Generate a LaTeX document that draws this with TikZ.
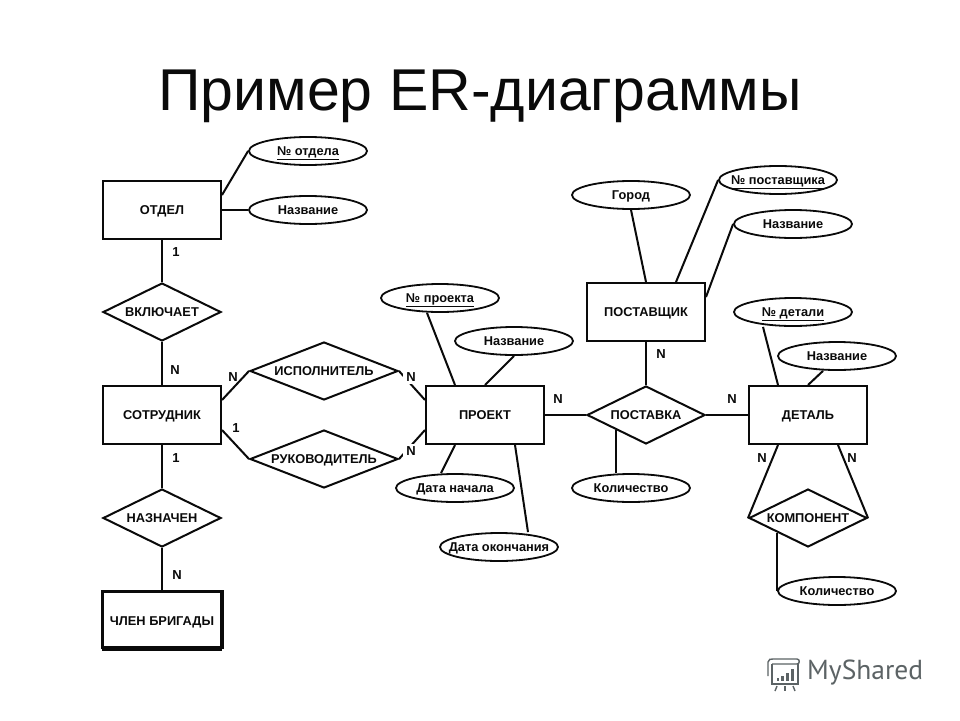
\documentclass[tikz,border=0pt]{standalone}
\usepackage{fontspec}
\setmainfont{Liberation Sans}
\newfontfamily\logofont{PT Sans}
\usetikzlibrary{shapes.geometric,calc}
\newcommand\lab[1]{\makebox[0pt]{\raisebox{-.36em}[0pt][0pt]{#1}}}
\definecolor{ink}{HTML}{0A0A0A}
\definecolor{logoc}{HTML}{5C6365}
\tikzset{
  ent/.style={draw=ink,line width=2pt,rectangle,minimum width=118pt,minimum height=58pt,inner sep=0pt,font=\bfseries\fontsize{12.8}{14}\selectfont,text=ink},
  rel/.style={draw=ink,line width=2pt,diamond,minimum width=118pt,minimum height=58pt,inner sep=0pt,font=\bfseries\fontsize{12.8}{14}\selectfont,text=ink},
  wrel/.style={rel,minimum width=148pt},
  attr/.style={draw=ink,line width=1.8pt,ellipse,minimum width=118pt,minimum height=28pt,inner sep=0pt,font=\bfseries\fontsize{12.8}{14}\selectfont,text=ink},
  conn/.style={draw=ink,line width=2pt},
  card/.style={font=\bfseries\fontsize{13}{14}\selectfont,text=ink,inner sep=0pt},
  gapcard/.style={card,fill=white,inner sep=3pt},
}
\begin{document}
\begin{tikzpicture}[x=1pt,y=-1pt]
\useasboundingbox (0,0) rectangle (960,720);
\fill[white] (0,0) rectangle (960,720);
\node[text=ink,font=\fontsize{59}{64}\selectfont,inner sep=0pt] (title) at (480,96) {Пример ER-диаграммы};

\node[ent] (otdel) at (162,210) {\lab{ОТДЕЛ}};
\node[attr] (onum) at (308,151) {\lab{\underline{№ отдела}}};
\node[attr] (oname) at (308,210) {\lab{Название}};
\node[rel] (vkl) at (162,312) {\lab{ВКЛЮЧАЕТ}};
\node[ent] (sotr) at (162,415) {\lab{СОТРУДНИК}};
\node[wrel] (isp) at (324,371) {\lab{ИСПОЛНИТЕЛЬ}};
\node[wrel] (ruk) at (324,459) {\lab{РУКОВОДИТЕЛЬ}};
\node[rel] (naz) at (162,518) {\lab{НАЗНАЧЕН}};
\node[ent] (chlen) at (162,621) {\lab{ЧЛЕН БРИГАДЫ}};
\node[ent] (proekt) at (485,415) {\lab{ПРОЕКТ}};
\node[attr] (pnum) at (440,298) {\lab{\underline{№ проекта}}};
\node[attr] (pname) at (514,341) {\lab{Название}};
\node[attr] (pstart) at (455,488) {\lab{Дата начала}};
\node[attr] (pend) at (499,547) {\lab{Дата окончания}};
\node[ent] (post) at (646,312) {\lab{ПОСТАВЩИК}};
\node[attr] (gorod) at (631,195) {\lab{Город}};
\node[attr] (snum) at (778,180) {\lab{\underline{№ поставщика}}};
\node[attr] (sname) at (793,224) {\lab{Название}};
\node[rel] (postav) at (646,415) {\lab{ПОСТАВКА}};
\node[attr] (qty) at (631,488) {\lab{Количество}};
\node[ent] (det) at (808,415) {\lab{ДЕТАЛЬ}};
\node[attr] (dnum) at (793,312) {\lab{\underline{№ детали}}};
\node[attr] (dname) at (837,356) {\lab{Название}};
\node[rel] (komp) at (808,518) {\lab{КОМПОНЕНТ}};
\node[attr] (kqty) at (837,591) {\lab{Количество}};

\draw[conn] (otdel.south) -- (vkl.north);
\draw[conn] (vkl.south) -- (sotr.north);
\draw[conn] (sotr.south) -- (naz.north);
\draw[conn] (naz.south) -- (chlen.north);
\draw[conn] ($(otdel.north east)!.25!(otdel.south east)$) -- (onum.west);
\draw[conn] (otdel.east) -- (oname.west);
\draw[conn] ($(sotr.north east)!.25!(sotr.south east)$) -- (isp.west);
\draw[conn] ($(sotr.north east)!.75!(sotr.south east)$) -- (ruk.west);
\draw[conn] (isp.east) -- ($(proekt.north west)!.25!(proekt.south west)$);
\draw[conn] (ruk.east) -- ($(proekt.north west)!.75!(proekt.south west)$);
\draw[conn] ([xshift=-13pt]pnum.south) -- ($(proekt.north west)!.25!(proekt.north east)$);
\draw[conn] (pname.south) -- (proekt.north);
\draw[conn] ($(proekt.south west)!.25!(proekt.south east)$) -- ([xshift=-14pt]pstart.north);
\draw[conn] ($(proekt.south west)!.75!(proekt.south east)$) -- ([xshift=29pt]pend.north);
\draw[conn] (proekt.east) -- (postav.west);
\draw[conn] (postav.east) -- (det.west);
\draw[conn] (post.south) -- (postav.north);
\draw[conn] (gorod.south) -- (post.north);
\draw[conn] ($(post.north west)!.75!(post.north east)$) -- (snum.west);
\draw[conn] ($(post.north east)!.25!(post.south east)$) -- (sname.west);
\draw[conn] ([xshift=-15pt]qty.north |- {$(postav.west)!.5!(postav.south)$}) -- ([xshift=-15pt]qty.north);
\draw[conn] ([xshift=-30pt]dnum.south) -- ($(det.north west)!.25!(det.north east)$);
\draw[conn] ([xshift=-14pt]dname.south) -- (det.north);
\draw[conn] ($(det.south west)!.25!(det.south east)$) -- (komp.west);
\draw[conn] ($(det.south west)!.75!(det.south east)$) -- (komp.east);
\draw[conn] (kqty.west |- {$(komp.west)!.5!(komp.south)$}) -- (kqty.west);

\draw[draw=ink,line width=3pt] (chlen.north west) rectangle ([yshift=4pt]chlen.south east);

\node[card] (c1) at (176,252) {1};
\node[card] (c2) at (175,370) {N};
\node[card] (c3) at (233,377) {N};
\node[gapcard] (c4) at (411,377) {N};
\node[card] (c5) at (236,428) {1};
\node[gapcard] (c6) at (411,451) {N};
\node[card] (c7) at (176,458) {1};
\node[card] (c8) at (177,575) {N};
\node[card] (c9) at (558,399) {N};
\node[card] (c10) at (661,354) {N};
\node[card] (c11) at (732,399) {N};
\node[card] (c12) at (762,458) {N};
\node[card] (c13) at (852,458) {N};

\node[text=logoc,font=\logofont\fontsize{27.5}{28}\selectfont,inner sep=0pt,anchor=west] (logo) at (807,673) {MyShared};
\begin{scope}[draw=logoc,line width=1.4pt]
\draw (772,664) -- (772,684) -- (798,684) -- (798,664);
\draw (768,676) -- (768,662) .. controls (768,659) and (771,659) .. (773,659) -- (797,659) .. controls (800,659) and (800,664) .. (797,664) -- (772,664);
\draw (777,686) -- (775,691);
\draw (785,686) -- (785,691);
\draw (793,686) -- (795,691);
\fill[logoc] (777,678) rectangle (779,681);
\fill[logoc] (781,676) rectangle (783.5,681);
\fill[logoc] (786,673) rectangle (788.5,681);
\fill[logoc] (791,669) rectangle (793.5,681);
\end{scope}
\end{tikzpicture}
\end{document}
